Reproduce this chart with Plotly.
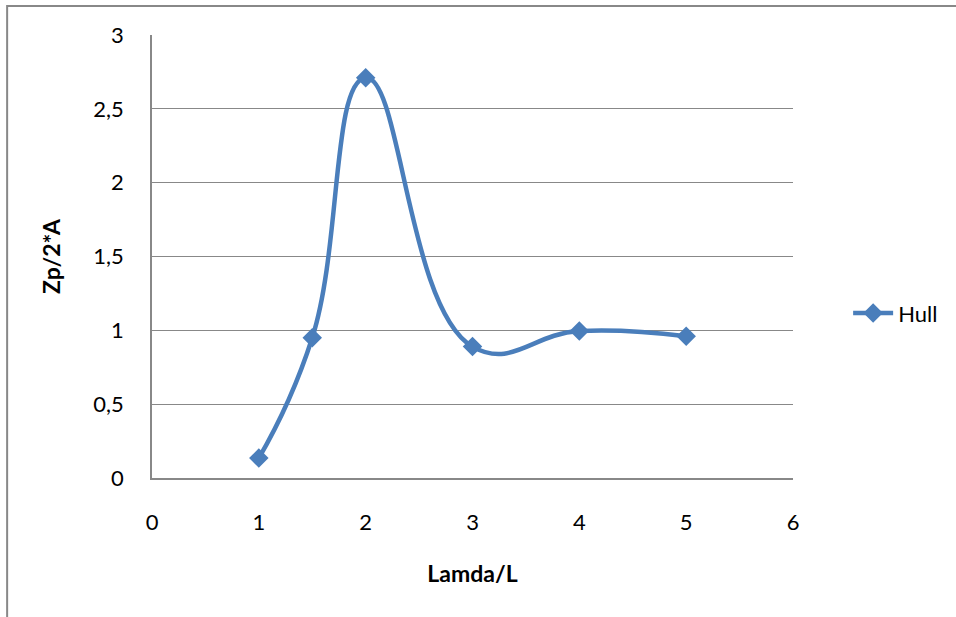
import plotly.graph_objects as go

# Response series: Zp/2*A against Lamda/L
lamda_l = [1, 1.5, 2, 3, 4, 5]
zp_ratio = [0.135, 0.95, 2.71, 0.89, 0.995, 0.96]
series_name = "Hull"

x_ticks = [0, 1, 2, 3, 4, 5, 6]
y_ticks = [0, 0.5, 1, 1.5, 2, 2.5, 3]
y_tick_text = ["0", "0,5", "1", "1,5", "2", "2,5", "3"]

blue = "#4A7EBB"
grey = "#888888"
font_family = "Lato, 'Open Sans', sans-serif"

fig = go.Figure()
fig.add_trace(go.Scatter(
    x=lamda_l,
    y=zp_ratio,
    name=series_name,
    mode="lines+markers",
    line=dict(color=blue, width=4.5, shape="spline", smoothing=1.3),
    marker=dict(symbol="diamond", size=15, color=blue),
))

fig.update_layout(
    width=956,
    height=617,
    margin=dict(l=152, r=163, t=35, b=139),
    paper_bgcolor="white",
    plot_bgcolor="white",
    font=dict(family=font_family, size=22, color="black"),
    showlegend=True,
    legend=dict(
        x=1.086, y=0.372, xanchor="left", yanchor="middle",
        font=dict(size=22), bgcolor="rgba(0,0,0,0)", itemwidth=40,
    ),
    xaxis=dict(
        range=[0, 6], tickvals=x_ticks, showgrid=False, zeroline=False,
        showline=True, linecolor=grey, linewidth=1.5, ticks="",
        ticklabelstandoff=24,
        title=dict(text="<b>Lamda/L</b>", standoff=32, font=dict(size=23)),
    ),
    yaxis=dict(
        range=[0, 3], tickvals=y_ticks, ticktext=y_tick_text,
        showgrid=True, gridcolor=grey, gridwidth=1.2, zeroline=False,
        showline=True, linecolor=grey, linewidth=1.5, ticks="",
        ticklabelstandoff=22,
        title=dict(text="<b>Zp/2*A</b>", standoff=26, font=dict(size=23)),
    ),
    shapes=[
        dict(type="rect", xref="paper", yref="paper",
             x0=-0.226, x1=1.6, y0=-0.6, y1=1.0655,
             line=dict(color=grey, width=2), layer="below"),
    ],
)

fig.write_html("out.html")
